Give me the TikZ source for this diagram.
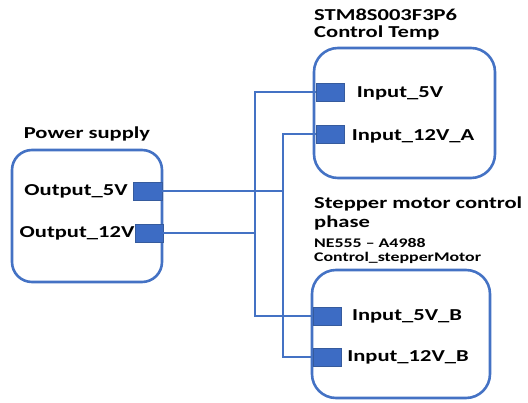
\documentclass[tikz,border=0pt]{standalone}
\usepackage{fontspec}
\setmainfont{Carlito}
\definecolor{obl}{HTML}{4472C4}
\definecolor{pbl}{HTML}{3D6CC4}
\newcommand\lbl[1]{\scalebox{1.35}[1]{#1}}
\begin{document}
\begin{tikzpicture}[x=1pt,y=-1pt,
  box/.style={draw=obl,line width=2.6pt,rounded corners=24pt,fill=white},
  port/.style={draw=obl!80!black,line width=0.6pt,fill=pbl,minimum width=28pt,minimum height=18pt,inner sep=0pt},
  wire/.style={draw=obl,line width=2pt},
  big/.style={font=\fontsize{16.7}{18}\selectfont\bfseries,inner sep=0pt},
  small/.style={font=\fontsize{13.2}{15}\selectfont\bfseries,inner sep=0pt}]
\useasboundingbox (0,0) rectangle (528,403);
% boxes
\node[box,minimum width=150pt,minimum height=132pt,rounded corners=20pt] (ps) at (87,216) {};
\node[box,minimum width=181pt,minimum height=130pt] (stm) at (404.5,113) {};
\node[box,minimum width=178pt,minimum height=128pt] (stp) at (401,334) {};
% ports
\node[port,minimum width=29pt] (ps5) at (147.5,191.5) {};
\node[port] (ps12) at (149,233.5) {};
\node[port] (a5) at (330,92) {};
\node[port] (a12) at (330,134) {};
\node[port] (b5) at (327,316) {};
\node[port] (b12) at (327,357) {};
% bus coordinates
\coordinate (busA) at (255,0);
\coordinate (busB) at (283,0);
% wires
\draw[wire] (a5.west) -- (a5.west -| busA) |- (b5.west);
\draw[wire] (a12.west) -- (a12.west -| busB) |- (b12.west);
\draw[wire] (ps5.east) -- (ps5.east -| busB);
\draw[wire] (ps12.east) -- (ps12.east -| busA);
% labels
\node[big] (tps) at (87,134) {\lbl{Power supply}};
\node[big] (tps5) at (76,191) {\lbl{Output\_5V}};
\node[big] (tps12) at (77,233) {\lbl{Output\_12V}};
\node[big,anchor=west] (tstm1) at (314,15) {\lbl{STM8S003F3P6}};
\node[big,anchor=west] (tstm2) at (314,33) {\lbl{Control Temp}};
\node[big] (ta5) at (400,93) {\lbl{Input\_5V}};
\node[big] (ta12) at (413,136) {\lbl{Input\_12V\_A}};
\node[big,anchor=west] (tst1) at (314,204) {\lbl{Stepper motor control}};
\node[big,anchor=west] (tst2) at (314,223) {\lbl{phase}};
\node[small,anchor=west] (tst3) at (314,243) {\lbl{NE555 – A4988}};
\node[small,anchor=west] (tst4) at (314,258) {\lbl{Control\_stepperMotor}};
\node[big] (tb5) at (407,316) {\lbl{Input\_5V\_B}};
\node[big] (tb12) at (408,357) {\lbl{Input\_12V\_B}};
\end{tikzpicture}
\end{document}
